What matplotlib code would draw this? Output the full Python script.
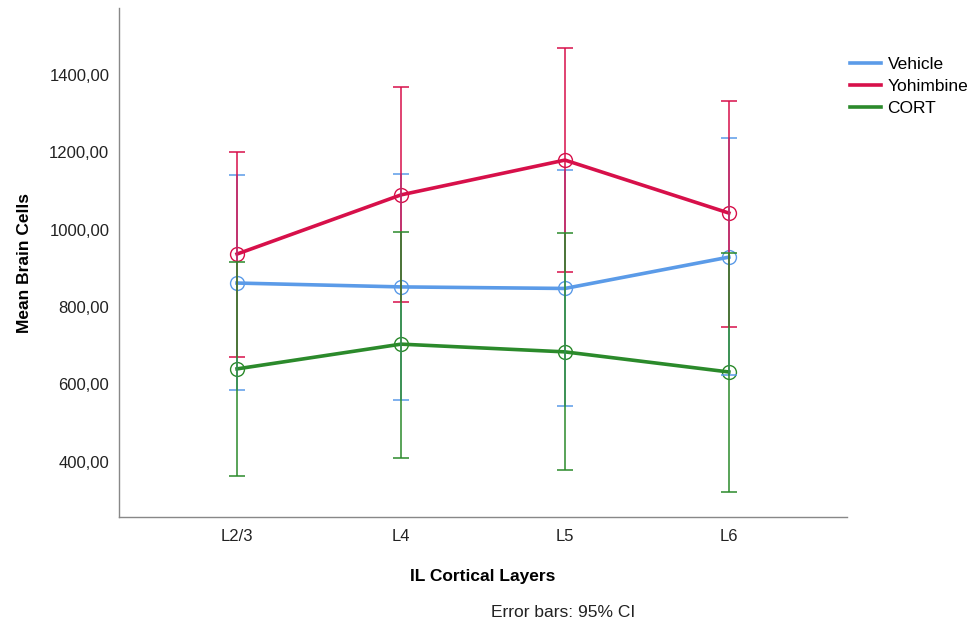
import matplotlib
matplotlib.use("Agg")
import matplotlib.pyplot as plt
from matplotlib.ticker import FuncFormatter
from matplotlib.lines import Line2D

plt.rcParams['font.family'] = ['Liberation Sans', 'DejaVu Sans']

layers = ['L2/3', 'L4', 'L5', 'L6']
groups = ['Vehicle', 'Yohimbine', 'CORT']
colors = {'Vehicle': '#5b9be8', 'Yohimbine': '#d7104a', 'CORT': '#2b8a2b'}

means = {
    'Vehicle':   [862, 852, 848, 929],
    'Yohimbine': [937, 1090, 1180, 1043],
    'CORT':      [640, 704, 684, 632],
}
ci_low = {
    'Vehicle':   [585, 559, 543, 624],
    'Yohimbine': [671, 813, 890, 748],
    'CORT':      [362, 409, 378, 321],
}
ci_high = {
    'Vehicle':   [1141, 1144, 1154, 1237],
    'Yohimbine': [1200, 1369, 1470, 1333],
    'CORT':      [916, 994, 991, 940],
}

fig = plt.figure(figsize=(9.69, 6.24), dpi=100)
ax = fig.add_axes([0.1228, 0.1715, 0.7512, 0.8155])

x = list(range(len(layers)))
for g in groups:
    ax.plot(x, means[g], color=colors[g], lw=2.6, label=g, zorder=2,
            marker='o', ms=10, mfc='none', mec=colors[g], mew=1)
for g in groups:
    m = means[g]
    lo = [mi - l for mi, l in zip(m, ci_low[g])]
    hi = [h - mi for mi, h in zip(m, ci_high[g])]
    ax.errorbar(x, m, yerr=[lo, hi], fmt='none', ecolor=colors[g],
                elinewidth=1.1, capsize=6, capthick=1.1, zorder=3)

ax.set_xlim(-0.72, 3.72)
ax.set_ylim(257, 1573)
ax.set_xticks(x)
ax.set_xticklabels(layers)
ax.set_yticks([400, 600, 800, 1000, 1200, 1400])
ax.yaxis.set_major_formatter(FuncFormatter(lambda v, p: f"{v:.2f}".replace('.', ',')))
ax.tick_params(length=0, labelsize=12, colors='#222222')
ax.tick_params(axis='y', pad=7)
ax.tick_params(axis='x', pad=9)

for s in ['top', 'right']:
    ax.spines[s].set_visible(False)
for s in ['left', 'bottom']:
    ax.spines[s].set_color('#888888')
    ax.spines[s].set_linewidth(1)

ax.set_xlabel('IL Cortical Layers', fontsize=12.5, fontweight='bold', labelpad=18)
ax.set_ylabel('Mean Brain Cells', fontsize=12.5, fontweight='bold', labelpad=12)

handles = [Line2D([], [], color=colors[g], lw=2.6) for g in groups]
ax.legend(handles, groups, loc='upper left', bbox_to_anchor=(0.995, 0.917),
          frameon=False, fontsize=12.5, handlelength=1.75, handletextpad=0.4,
          labelspacing=0.37, borderaxespad=0)

fig.text(0.581, 0.018, 'Error bars: 95% CI', ha='center', va='center', fontsize=12.5, color='#222222')

fig.savefig('out.png', dpi=100)
